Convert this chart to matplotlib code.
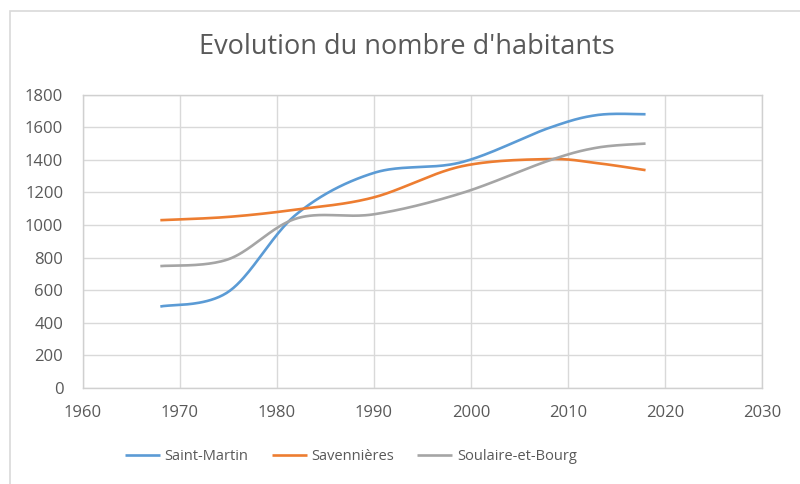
import numpy as np
import matplotlib
matplotlib.use("Agg")
from matplotlib import pyplot as plt
from matplotlib.patches import Rectangle

plt.rcParams['font.family'] = ['Open Sans', 'DejaVu Sans']

# census years and population
years = [1968, 1975, 1982, 1990, 1999, 2008, 2013, 2018]
saint_martin = [500, 590, 1065, 1320, 1385, 1595, 1675, 1680]
savennieres = [1030, 1050, 1095, 1170, 1360, 1405, 1380, 1337]
soulaire = [748, 790, 1040, 1066, 1195, 1395, 1475, 1500]

series_names = ["Saint-Martin", "Savennières", "Soulaire-et-Bourg"]
colors = ["#5B9BD5", "#ED7D31", "#A5A5A5"]


def smooth(xs, ys, n=40):
    # excel-like smoothed line: cubic bezier through every point
    p = np.column_stack([xs, ys]).astype(float)
    out = []
    for i in range(len(p) - 1):
        p0 = p[i - 1] if i > 0 else p[i]
        p1, p2 = p[i], p[i + 1]
        p3 = p[i + 2] if i + 2 < len(p) else p[i + 1]
        c1 = p1 + (p2 - p0) / 6
        c2 = p2 - (p3 - p1) / 6
        t = np.linspace(0, 1, n)[:, None]
        seg = ((1 - t) ** 3 * p1 + 3 * (1 - t) ** 2 * t * c1
               + 3 * (1 - t) * t ** 2 * c2 + t ** 3 * p2)
        out.append(seg if i == 0 else seg[1:])
    out = np.vstack(out)
    return out[:, 0], out[:, 1]


fig = plt.figure(figsize=(8, 4.84), dpi=100)
fig.patches.append(Rectangle((10 / 800, -0.1), 1.2, 1 - 11 / 484 + 0.1,
                             transform=fig.transFigure, fill=False,
                             edgecolor="#d9d9d9", linewidth=1.2))

ax = fig.add_axes([82.7 / 800, 1 - 388 / 484, (762 - 82.7) / 800, (388 - 94.7) / 484])

for vals, name, c in zip([saint_martin, savennieres, soulaire], series_names, colors):
    sx, sy = smooth(years, vals)
    ax.plot(sx, sy, color=c, linewidth=1.9, label=name, solid_capstyle="butt")

ax.set_xlim(1960, 2030)
ax.set_ylim(0, 1800)
ax.set_xticks(range(1960, 2031, 10))
ax.set_yticks(range(0, 1801, 200))
ax.grid(True, color="#d9d9d9", linewidth=1)
ax.set_axisbelow(True)
for s in ax.spines.values():
    s.set_color("#d0d0d0")
    s.set_linewidth(1)
ax.tick_params(length=0, labelsize=12, labelcolor="#595959")
ax.tick_params(axis="x", pad=12)
ax.tick_params(axis="y", pad=14)

fig.text(0.508, 1 - 47 / 484, "Evolution du nombre d'habitants", ha="center",
         va="center", fontsize=19.5, color="#595959")

fig.legend(loc="center", bbox_to_anchor=(351 / 800, 1 - 457 / 484), ncol=3,
           frameon=False, fontsize=10.5, labelcolor="#595959",
           handlelength=2.4, handletextpad=0.3, columnspacing=1.6)

fig.savefig("out.png", dpi=100)
